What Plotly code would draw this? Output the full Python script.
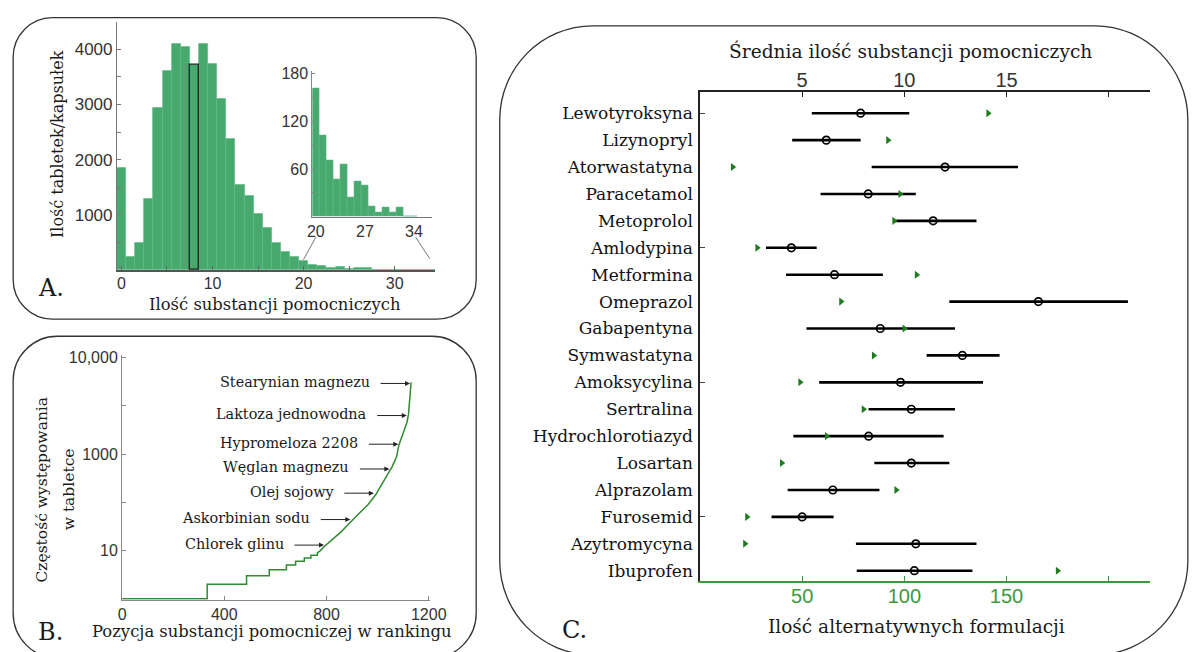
import math
import plotly.graph_objects as go

W, H = 1198, 652

# ---------------- Panel A data ----------------
n_excipients = list(range(0, 35))
tablet_counts = [1850, 240, 500, 1300, 2930, 3600, 4100, 4050, 3720, 4100,
                 3740, 3110, 2380, 1550, 1340, 1020, 760, 490, 330, 240,
                 161, 102, 71, 47, 66, 24, 44, 39, 13, 5,
                 12, 5, 12, 1, 1]
highlight_bin = 8
inset_from = 20
a_yticks = [500, 1000, 1500, 2000, 2500, 3000, 3500, 4000]
a_yticklabels = ["", "1000", "", "2000", "", "3000", "", "4000"]
a_xticks = [0, 5, 10, 15, 20, 25, 30]
a_xticklabels = ["0", "", "10", "", "20", "", "30"]
inset_xticks = [20, 27, 34]
inset_yticks = [30, 60, 90, 120, 150, 180]
inset_yticklabels = ["", "60", "", "120", "", "180"]

# ---------------- Panel B data ----------------
rank = [0, 333, 333, 487, 487, 576, 576, 643, 643, 679, 679, 713, 713, 739, 739,
        764, 764, 776, 790, 805, 821, 840, 859, 878, 897, 929, 962, 993, 1019,
        1038, 1057, 1074, 1083, 1099, 1115, 1121, 1127, 1131]
frequency = [1, 1, 2, 2, 3, 3, 4, 4, 5, 5, 6, 6, 7, 7, 8,
             8, 9, 10, 12, 14, 17, 20, 25, 32, 41, 60, 89, 145, 250,
             371, 550, 881, 1530, 2650, 4590, 6840, 13900, 31000]
b_labels = ["Stearynian magnezu", "Laktoza jednowodna", "Hypromeloza 2208",
            "Węglan magnezu", "Olej sojowy", "Askorbinian sodu", "Chlorek glinu"]
b_label_rank = [1127, 1114, 1081, 1046, 985, 893, 790]
b_label_freq = [29200, 6310, 1607, 492, 155, 44, 13]
b_xticks = [0, 400, 800, 1200]
b_yticks = [10, 100, 1000, 10000, 100000]
b_yticklabels = ["10", "", "1000", "", "10,000"]

# ---------------- Panel C data ----------------
drugs = ["Lewotyroksyna", "Lizynopryl", "Atorwastatyna", "Paracetamol", "Metoprolol",
         "Amlodypina", "Metformina", "Omeprazol", "Gabapentyna", "Symwastatyna",
         "Amoksycylina", "Sertralina", "Hydrochlorotiazyd", "Losartan", "Alprazolam",
         "Furosemid", "Azytromycyna", "Ibuprofen"]
mean_excipients = [7.86, 6.18, 11.99, 8.23, 11.41, 4.47, 6.58, 16.56, 8.82, 12.84,
                   9.81, 10.34, 8.25, 10.34, 6.50, 5.00, 10.56, 10.49]
excip_low = [5.47, 4.51, 8.40, 5.90, 9.47, 3.23, 4.21, 12.20, 5.21, 11.09,
             5.83, 8.25, 4.57, 8.53, 4.29, 3.50, 7.63, 7.67]
excip_high = [10.24, 7.86, 15.56, 10.56, 13.53, 5.71, 8.95, 20.94, 12.48, 14.66,
              13.85, 12.48, 11.92, 12.20, 8.78, 6.54, 13.53, 13.33]
n_alternatives = [141, 92, 16, 98, 95, 28, 106, 69, 100, 85,
                  49, 80, 62, 40, 96, 23, 22, 175]
c_top_ticks = [5, 10, 15, 20]
c_top_labels = ["5", "10", "15", ""]
c_bot_ticks = [50, 100, 150, 200]
c_bot_labels = ["50", "100", "150", ""]

# ---------------- helpers ----------------
def X(px):
    return px / W


def Y(py):
    return 1 - py / H


def rrect(x0, y0, x1, y1, r):
    k = 0.5523 * r
    p = lambda x, y: f"{X(x):.5f},{Y(y):.5f}"
    return (f"M {p(x0 + r, y0)} L {p(x1 - r, y0)} "
            f"C {p(x1 - r + k, y0)} {p(x1, y0 + r - k)} {p(x1, y0 + r)} "
            f"L {p(x1, y1 - r)} "
            f"C {p(x1, y1 - r + k)} {p(x1 - r + k, y1)} {p(x1 - r, y1)} "
            f"L {p(x0 + r, y1)} "
            f"C {p(x0 + r - k, y1)} {p(x0, y1 - r + k)} {p(x0, y1 - r)} "
            f"L {p(x0, y0 + r)} "
            f"C {p(x0, y0 + r - k)} {p(x0 + r - k, y0)} {p(x0 + r, y0)} Z")


SERIF = "DejaVu Serif"
SANS = "Liberation Sans"
BAR_GREEN = "#48a96f"
LINE_GREEN = "#2e8b2e"
TRI_GREEN = "#1e7b1e"
AX_GREEN = "#3c9a3c"
TXT = "#1a1a1a"

fig = go.Figure()

# Panel A: histogram + highlighted bin
fig.add_trace(go.Bar(x=n_excipients, y=tablet_counts, width=1,
                     marker=dict(color=BAR_GREEN, line=dict(width=0.6, color="#5cb884")),
                     xaxis="x", yaxis="y", showlegend=False))
fig.add_trace(go.Bar(x=[n_excipients[highlight_bin]], y=[tablet_counts[highlight_bin]], width=1,
                     marker=dict(color="rgba(0,0,0,0)", line=dict(width=1.3, color="#222")),
                     xaxis="x", yaxis="y", showlegend=False))
# Panel A inset (tail)
fig.add_trace(go.Bar(x=n_excipients[inset_from:], y=tablet_counts[inset_from:], width=1,
                     marker=dict(color=BAR_GREEN, line=dict(width=0.6, color="#5cb884")),
                     xaxis="x2", yaxis="y2", showlegend=False))

# Panel B: rank-frequency curve
fig.add_trace(go.Scatter(x=rank, y=frequency, mode="lines",
                         line=dict(color=LINE_GREEN, width=1.5),
                         xaxis="x3", yaxis="y3", showlegend=False))

# Panel C
rows = list(range(len(drugs)))
fig.add_trace(go.Scatter(
    x=mean_excipients, y=rows, mode="markers",
    error_x=dict(type="data", symmetric=False,
                 array=[h - m for h, m in zip(excip_high, mean_excipients)],
                 arrayminus=[m - l for m, l in zip(mean_excipients, excip_low)],
                 width=0, thickness=2.6, color="black"),
    marker=dict(symbol="circle-open", size=7.5, color="black", line=dict(width=1.7)),
    xaxis="x4", yaxis="y4", showlegend=False))
fig.add_trace(go.Scatter(
    x=n_alternatives, y=rows, mode="markers",
    marker=dict(symbol="triangle-right", size=7, color=TRI_GREEN),
    xaxis="x5", yaxis="y4", showlegend=False))
fig.add_trace(go.Scatter(x=[None], y=[None], xaxis="x4", yaxis="y5", showlegend=False))

tickfont_a = dict(family=SANS, size=16, color="#333")

layout = dict(
    width=W, height=H, margin=dict(l=0, r=0, t=0, b=0),
    paper_bgcolor="white", plot_bgcolor="rgba(0,0,0,0)",
    font=dict(family=SANS, color=TXT), barmode="overlay", bargap=0,
    showlegend=False,
    xaxis=dict(domain=[X(114), X(438)], range=[-0.5, 34.42], anchor="y",
               showline=True, linecolor="#555", linewidth=1.5, ticks="inside", ticklen=4,
               tickcolor="#666", tickvals=a_xticks, ticktext=a_xticklabels,
               tickfont=tickfont_a, showgrid=False, zeroline=False, ticklabelstandoff=-2),
    yaxis=dict(domain=[Y(266.7), Y(16)], range=[0, 4494], anchor="x",
               showline=True, linecolor="#777", linewidth=1, ticks="inside", ticklen=4,
               tickcolor="#777", tickvals=a_yticks, ticktext=a_yticklabels,
               tickfont=dict(family=SANS, size=17, color="#333"), showgrid=False, zeroline=False),
    xaxis2=dict(domain=[X(313.1), X(435)], range=[19.5, 36.57], anchor="y2",
                showline=True, linecolor="#777", linewidth=1.2, ticks="", tickvals=inset_xticks,
                tickfont=tickfont_a, showgrid=False, zeroline=False),
    yaxis2=dict(domain=[Y(212.7), Y(66)], range=[0, 182.9], anchor="x2",
                showline=True, linecolor="#888", linewidth=1, ticks="inside", ticklen=3,
                tickcolor="#888", tickvals=inset_yticks, ticktext=inset_yticklabels,
                tickfont=tickfont_a, showgrid=False, zeroline=False),
    xaxis3=dict(domain=[X(119.3), X(432.7)], range=[0, 1204], anchor="y3",
                showline=True, linecolor="#888", linewidth=1.2, ticks="inside", ticklen=4,
                tickcolor="#888", tickvals=b_xticks, tickfont=tickfont_a,
                showgrid=False, zeroline=False),
    yaxis3=dict(domain=[Y(599.3), Y(352.5)], type="log", range=[-0.02, 5.05], anchor="x3",
                showline=True, linecolor="#888", linewidth=1.2, ticks="inside", ticklen=4,
                tickcolor="#888", tickvals=b_yticks, ticktext=b_yticklabels,
                tickfont=tickfont_a, showgrid=False, zeroline=False),
    xaxis4=dict(domain=[X(708), X(1166)], range=[0, 22.0], anchor="y4", side="top",
                showline=True, linecolor="#222", linewidth=1.5, ticks="inside", ticklen=5,
                tickcolor="#222", tickvals=c_top_ticks, ticktext=c_top_labels,
                tickfont=dict(family=SANS, size=20, color="#333"), showgrid=False, zeroline=False,
                ticklabelstandoff=-4),
    xaxis5=dict(overlaying="x4", anchor="y4", side="bottom", range=[0, 220],
                showline=True, linecolor=AX_GREEN, linewidth=2, ticks="inside", ticklen=5,
                tickcolor=AX_GREEN, tickvals=c_bot_ticks, ticktext=c_bot_labels,
                tickfont=dict(family=SANS, size=20, color=AX_GREEN), showgrid=False, zeroline=False,
                ticklabelstandoff=-4),
    yaxis4=dict(domain=[Y(580), Y(87.3)], range=[17.37, -0.77], anchor="x4",
                showline=True, linecolor="#222", linewidth=1.5, ticks="",
                tickvals=rows, ticktext=drugs, ticklabelstandoff=2,
                tickfont=dict(family=SERIF, size=17, color="#111"), showgrid=False, zeroline=False),
    yaxis5=dict(overlaying="y4", anchor="x4", side="left", range=[17.37, -0.77],
                showline=False, ticks="inside", ticklen=5, tickcolor="#444",
                tickvals=[0, 5, 10, 15], showticklabels=False, showgrid=False, zeroline=False),
)
fig.update_layout(**layout)

shapes = [
    dict(type="path", path=rrect(8.3, 11.7, 480, 316, 40), xref="paper", yref="paper",
         line=dict(color="#333", width=1.3), layer="below"),
    dict(type="path", path=rrect(8.3, 333.3, 480, 658, 45), xref="paper", yref="paper",
         line=dict(color="#333", width=1.3), layer="below"),
    dict(type="path", path=rrect(504, 20, 1205, 655, 95), xref="paper", yref="paper",
         line=dict(color="#333", width=1.3), layer="below"),
    # inset connector lines
    dict(type="line", xref="paper", yref="paper", x0=X(304), y0=Y(256), x1=X(316.7), y1=Y(233.3),
         line=dict(color="#777", width=1)),
    dict(type="line", xref="paper", yref="paper", x0=X(432.7), y0=Y(255), x1=X(418.3), y1=Y(233.3),
         line=dict(color="#777", width=1)),
]
fig.update_layout(shapes=shapes)

ann = []


def text_ann(px, py, text, size, family=SERIF, angle=0, color=TXT, xanchor="center"):
    ann.append(dict(x=X(px), y=Y(py), xref="paper", yref="paper", text=text, showarrow=False,
                    textangle=angle, xanchor=xanchor, yanchor="middle",
                    font=dict(family=family, size=size, color=color)))


text_ann(53.3, 139, "Ilość tabletek/kapsułek", 16, angle=-90)
text_ann(275, 301.7, "Ilość substancji pomocniczych", 16.4)
text_ann(46.7, 285, "A.", 24)
text_ann(36.7, 488, "Częstość występowania", 15.5, angle=-90)
text_ann(65, 488, "w tabletce", 15.5, angle=-90)
text_ann(272.5, 631.7, "Pozycja substancji pomocniczej w rankingu", 16.4)
text_ann(46.7, 631.7, "B.", 24)
text_ann(922.5, 45, "Średnia ilość substancji pomocniczych", 18.6)
text_ann(928.5, 626, "Ilość alternatywnych formulacji", 18.5)
text_ann(580, 630, "C.", 24)

for lab, rk, fq in zip(b_labels, b_label_rank, b_label_freq):
    ann.append(dict(x=rk, y=math.log10(fq), xref="x3", yref="y3", text="",
                    showarrow=True, arrowhead=2, arrowsize=1, arrowwidth=1, arrowcolor="#222",
                    ax=-31, ay=0, axref="pixel", ayref="pixel", standoff=0))
    ann.append(dict(x=rk, y=math.log10(fq), xref="x3", yref="y3", text=lab,
                    showarrow=False, xanchor="right", yanchor="middle", xshift=-38, yshift=1.5,
                    font=dict(family=SERIF, size=14.4, color=TXT)))

fig.update_layout(annotations=ann)
fig.write_html("out.html")
